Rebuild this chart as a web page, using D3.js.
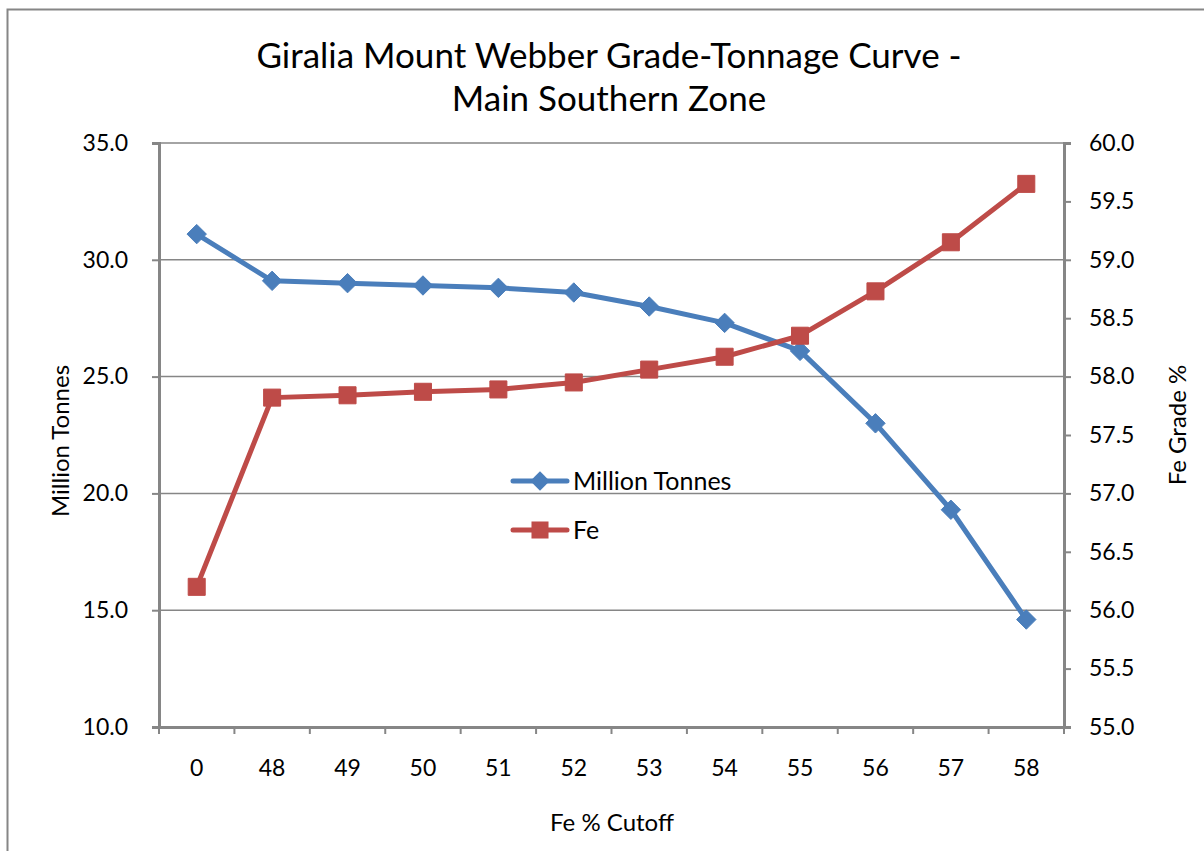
<!DOCTYPE html>
<html>
<head>
<meta charset="utf-8">
<script src="https://cdn.jsdelivr.net/npm/d3@7"></script>
<style>
  body { margin: 0; background: #fff; }
  text { font-family: Lato, "Open Sans", sans-serif; fill: #000; }
</style>
</head>
<body>
<svg width="1204" height="851"></svg>
<script>
const cutoffs = ['0', '48', '49', '50', '51', '52', '53', '54', '55', '56', '57', '58'];
const tonnes = [31.1, 29.1, 29.0, 28.9, 28.8, 28.6, 28.0, 27.3, 26.1, 23.0, 19.3, 14.6];
const feGrade = [56.2, 57.82, 57.84, 57.87, 57.89, 57.95, 58.06, 58.17, 58.35, 58.73, 59.15, 59.65];
const leftTicks = [10, 15, 20, 25, 30, 35];
const rightTicks = [55, 55.5, 56, 56.5, 57, 57.5, 58, 58.5, 59, 59.5, 60];

const svg = d3.select('svg');
const m = {left: 159, right: 1064, top: 143, bottom: 727};
const gray = '#868686';
const blue = '#4A7EBB', red = '#BE4B48';

// outer chart border
svg.append('rect')
  .attr('x', 7.5).attr('y', 9.5)
  .attr('width', 1204).attr('height', 851)
  .attr('fill', 'none').attr('stroke', gray).attr('stroke-width', 2);

const x = d3.scaleBand().domain(cutoffs).range([m.left, m.right]);
const yL = d3.scaleLinear().domain([10, 35]).range([m.bottom, m.top]);
const yR = d3.scaleLinear().domain([55, 60]).range([m.bottom, m.top]);

// gridlines
svg.append('g').selectAll('line')
  .data(leftTicks.slice(1))
  .enter().append('line')
    .attr('x1', m.left).attr('x2', m.right)
    .attr('y1', d => yL(d)).attr('y2', d => yL(d))
    .attr('stroke', gray).attr('stroke-width', 1.5);

// left axis
const leftAxis = svg.append('g')
  .attr('transform', `translate(${m.left},0)`)
  .call(d3.axisLeft(yL).tickValues(leftTicks).tickFormat(d3.format('.1f')).tickSize(7).tickPadding(24));
// right axis
const rightAxis = svg.append('g')
  .attr('transform', `translate(${m.right},0)`)
  .call(d3.axisRight(yR).tickValues(rightTicks).tickFormat(d3.format('.1f')).tickSize(7).tickPadding(18));
// bottom axis: ticks on band edges
const bottomAxis = svg.append('g')
  .attr('transform', `translate(0,${m.bottom})`)
  .call(d3.axisBottom(x).tickSize(0).tickPadding(33));
bottomAxis.selectAll('.edge')
  .data(d3.range(cutoffs.length + 1))
  .enter().append('line')
    .attr('class', 'edge')
    .attr('x1', i => m.left + i * x.step()).attr('x2', i => m.left + i * x.step())
    .attr('y1', 0).attr('y2', 7)
    .attr('stroke', gray).attr('stroke-width', 2);

[leftAxis, rightAxis, bottomAxis].forEach(a => {
  a.select('.domain').attr('stroke', gray).attr('stroke-width', 3);
  a.selectAll('.tick line').attr('stroke', gray).attr('stroke-width', 2);
  a.selectAll('.tick text').style('font-size', '23px').attr('fill', '#000')
    .style('font-family', 'Lato, "Open Sans", sans-serif');
});

const cx = d => x(d) + x.bandwidth() / 2;

// series lines
const lineT = d3.line().x((d, i) => cx(cutoffs[i])).y(d => yL(d));
const lineF = d3.line().x((d, i) => cx(cutoffs[i])).y(d => yR(d));

svg.append('path').attr('d', lineT(tonnes))
  .attr('fill', 'none').attr('stroke', blue).attr('stroke-width', 5).attr('stroke-linejoin', 'round');
svg.append('path').attr('d', lineF(feGrade))
  .attr('fill', 'none').attr('stroke', red).attr('stroke-width', 5).attr('stroke-linejoin', 'round');

const diamond = d3.symbol().type(d3.symbolDiamond2).size(240);
const square = d3.symbol().type(d3.symbolSquare).size(290);

svg.append('g').selectAll('path')
  .data(tonnes)
  .enter().append('path')
    .attr('d', diamond)
    .attr('transform', (d, i) => `translate(${cx(cutoffs[i])},${yL(d)})`)
    .attr('fill', blue).attr('stroke', blue).attr('stroke-width', 1);

svg.append('g').selectAll('path')
  .data(feGrade)
  .enter().append('path')
    .attr('d', square)
    .attr('transform', (d, i) => `translate(${cx(cutoffs[i])},${yR(d)})`)
    .attr('fill', red).attr('stroke', red).attr('stroke-width', 1);

// legend
const legend = [
  {name: 'Million Tonnes', color: blue, sym: diamond, y: 481},
  {name: 'Fe', color: red, sym: square, y: 530}
];
const lg = svg.append('g').selectAll('g').data(legend).enter().append('g')
  .attr('transform', d => `translate(513,${d.y})`);
lg.append('line').attr('x1', 0).attr('x2', 54).attr('y1', 0).attr('y2', 0)
  .attr('stroke', d => d.color).attr('stroke-width', 5).attr('stroke-linecap', 'round');
lg.append('path').attr('d', d => d.sym()).attr('transform', 'translate(27,0)')
  .attr('fill', d => d.color);
lg.append('text').attr('x', 60).attr('dy', '0.35em')
  .style('font-size', '25px').text(d => d.name);

// titles
svg.append('text').attr('x', 609).attr('y', 68).attr('text-anchor', 'middle')
  .style('font-size', '35px').text('Giralia Mount Webber Grade-Tonnage Curve -');
svg.append('text').attr('x', 609).attr('y', 111).attr('text-anchor', 'middle')
  .style('font-size', '35px').text('Main Southern Zone');

svg.append('text').attr('transform', 'translate(69,441) rotate(-90)')
  .attr('text-anchor', 'middle').style('font-size', '24px').text('Million Tonnes');
svg.append('text').attr('transform', 'translate(1186,425) rotate(-90)')
  .attr('text-anchor', 'middle').style('font-size', '24px').text('Fe Grade %');
svg.append('text').attr('x', 612).attr('y', 831)
  .attr('text-anchor', 'middle').style('font-size', '24px').text('Fe % Cutoff');
</script>
</body>
</html>
